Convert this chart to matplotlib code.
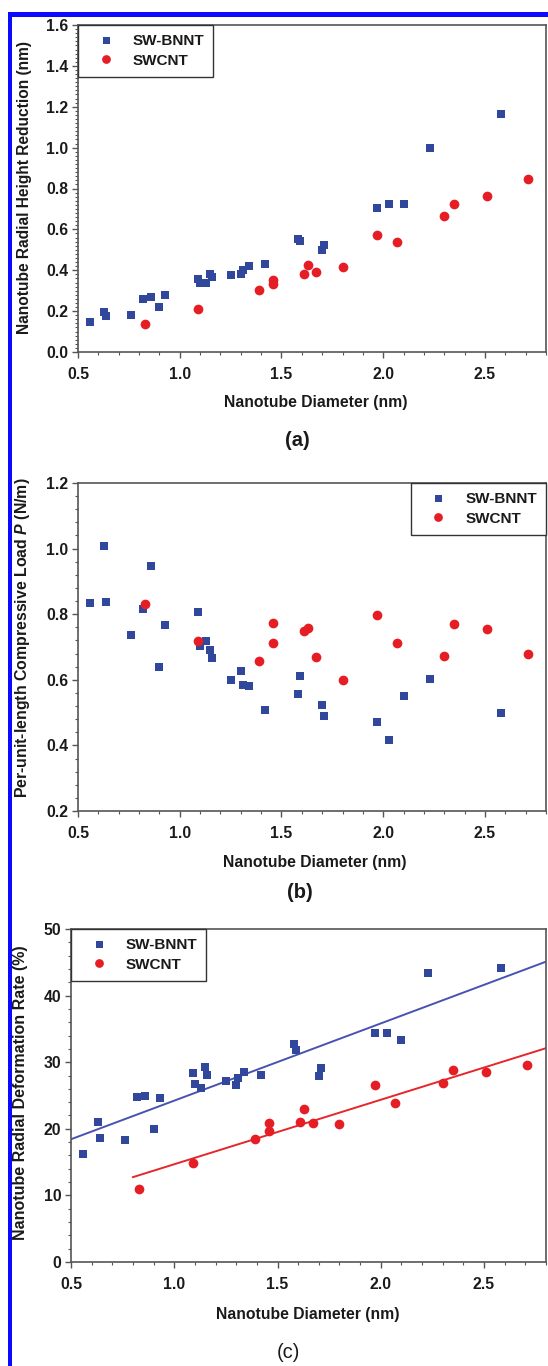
import numpy as np
import matplotlib
matplotlib.use("Agg")
import matplotlib.pyplot as plt
from matplotlib.ticker import MultipleLocator, FormatStrFormatter
from matplotlib.patches import Rectangle

plt.rcParams['font.family'] = ['Liberation Sans', 'DejaVu Sans']
plt.rcParams['font.weight'] = 'bold'
plt.rcParams['mathtext.fontset'] = 'custom'
plt.rcParams['mathtext.it'] = 'Liberation Sans:italic:bold'
plt.rcParams['mathtext.rm'] = 'Liberation Sans:bold'

# ---------------- data ----------------
d_bnnt = [0.56, 0.63, 0.64, 0.76, 0.82, 0.86, 0.90, 0.93, 1.09, 1.10, 1.13, 1.15, 1.16,
          1.25, 1.30, 1.31, 1.34, 1.42, 1.58, 1.59, 1.70, 1.71, 1.97, 2.03, 2.10, 2.23, 2.58]
d_swcnt = [0.83, 1.09, 1.39, 1.46, 1.46, 1.61, 1.63, 1.67, 1.80, 1.97, 2.07, 2.30, 2.35, 2.51, 2.71]

# (a) radial height reduction (nm)
h_bnnt = [0.148, 0.196, 0.174, 0.182, 0.261, 0.267, 0.220, 0.277, 0.357, 0.337, 0.337, 0.383, 0.367,
          0.376, 0.380, 0.399, 0.419, 0.432, 0.552, 0.541, 0.500, 0.525, 0.704, 0.723, 0.723, 0.999, 1.163]
h_swcnt = [0.135, 0.209, 0.305, 0.354, 0.332, 0.383, 0.425, 0.393, 0.415, 0.574, 0.536, 0.665, 0.725, 0.763, 0.847]

# (b) per-unit-length compressive load P (N/m)
p_bnnt = [0.835, 1.008, 0.836, 0.736, 0.817, 0.947, 0.638, 0.766, 0.806, 0.703, 0.719, 0.690, 0.667,
          0.599, 0.627, 0.584, 0.582, 0.509, 0.558, 0.613, 0.522, 0.489, 0.471, 0.417, 0.550, 0.601, 0.499]
p_swcnt = [0.832, 0.719, 0.657, 0.773, 0.712, 0.749, 0.758, 0.670, 0.598, 0.797, 0.713, 0.674, 0.769, 0.754, 0.678]

# (c) radial deformation rate (%)
r_bnnt = [16.25, 20.95, 18.6, 18.25, 24.8, 24.95, 19.9, 24.65, 28.35, 26.8, 26.2, 29.35, 28.1,
          27.25, 26.6, 27.7, 28.5, 28.1, 32.7, 31.9, 28.0, 29.1, 34.45, 34.35, 33.35, 43.35, 44.15]
r_swcnt = [11.0, 14.8, 18.5, 20.85, 19.6, 20.95, 23.0, 20.85, 20.75, 26.6, 23.9, 26.95, 28.9, 28.6, 29.65]

labels = ["SW-BNNT", "SWCNT"]
xlabel = "Nanotube Diameter (nm)"
ylabels = ["Nanotube Radial Height Reduction (nm)",
           "Per-unit-length Compressive Load $\\mathit{P}$ (N/m)",
           "Nanotube Radial Deformation Rate (%)"]
panel_tags = ["(a)", "(b)", "(c)"]

# ---------------- style ----------------
W, H = 548, 1366
BLUE = '#30479b'
RED = '#e51e25'
BLUE_LINE = '#4852b0'
RED_LINE = '#e6262b'
SPINE = '#555555'

fig = plt.figure(figsize=(W / 100, H / 100), dpi=100)
fig.patch.set_facecolor('white')

def rect(l, r, t, b):
    return [l / W, 1 - b / H, (r - l) / W, (b - t) / H]

# blue border
fig.patches.append(Rectangle((7.5 / W, 0), 4.5 / W, 1 - 12 / H, transform=fig.transFigure,
                             facecolor='#0a0aff', edgecolor='none', zorder=10))
fig.patches.append(Rectangle((7.5 / W, 1 - 16.5 / H), (W - 7.5) / W, 4.5 / H, transform=fig.transFigure,
                             facecolor='#0a0aff', edgecolor='none', zorder=10))

def style_axes(ax, ylim, ymaj, ymin, yfmt):
    ax.set_xlim(0.5, 2.8)
    ax.set_ylim(*ylim)
    ax.xaxis.set_major_locator(MultipleLocator(0.5))
    ax.xaxis.set_minor_locator(MultipleLocator(0.1))
    ax.yaxis.set_major_locator(MultipleLocator(ymaj))
    ax.yaxis.set_minor_locator(MultipleLocator(ymin))
    ax.xaxis.set_major_formatter(FormatStrFormatter('%.1f'))
    ax.yaxis.set_major_formatter(FormatStrFormatter(yfmt))
    for s in ax.spines.values():
        s.set_color(SPINE)
        s.set_linewidth(1.2)
    ax.tick_params(axis='both', which='major', direction='out', length=4, width=1.0,
                   color=SPINE, labelsize=11.3, labelcolor='#1a1a1a')
    ax.tick_params(axis='both', which='minor', direction='out', length=2.2, width=0.8, color=SPINE)
    ax.tick_params(axis='x', which='major', pad=7)
    ax.tick_params(axis='y', which='major', pad=3)
    ax.tick_params(top=False, right=False, which='both')
    for lab in ax.get_xticklabels() + ax.get_yticklabels():
        lab.set_fontweight('bold')

def scatter_pair(ax, yb, ys):
    ax.plot(d_bnnt, yb, linestyle='none', marker='s', markersize=5.6, color=BLUE,
            markeredgewidth=0, label=labels[0], zorder=3)
    ax.plot(d_swcnt, ys, linestyle='none', marker='o', markersize=7.0, color=RED,
            markeredgewidth=0, label=labels[1], zorder=3)

def add_legend(ax, loc):
    leg = ax.legend(loc=loc, borderaxespad=0, fancybox=False, frameon=True,
                    prop={'size': 11, 'weight': 'bold'}, borderpad=0.6, handlelength=2.4,
                    handletextpad=0.55, labelspacing=0.35, numpoints=1, markerscale=0.9)
    fr = leg.get_frame()
    fr.set_edgecolor('#333333')
    fr.set_linewidth(1.0)
    fr.set_alpha(1)
    for t in leg.get_texts():
        t.set_color('#1a1a1a')
    return leg

# ---- panel (a) ----
axa = fig.add_axes(rect(78, 546, 25, 352))
scatter_pair(axa, h_bnnt, h_swcnt)
style_axes(axa, (0.0, 1.6), 0.2, 0.02, '%.1f')
add_legend(axa, 'upper left')

# ---- panel (b) ----
axb = fig.add_axes(rect(78, 546, 483, 811))
scatter_pair(axb, p_bnnt, p_swcnt)
style_axes(axb, (0.2, 1.2), 0.2, 0.04, '%.1f')
add_legend(axb, 'upper right')

# ---- panel (c) ----
axc = fig.add_axes(rect(71, 546, 929, 1262))
kb = np.polyfit(d_bnnt, r_bnnt, 1)
ks = np.polyfit(d_swcnt, r_swcnt, 1)
xb = np.array([0.5, 2.8])
xs = np.array([0.8, 2.8])
axc.plot(xb, np.polyval(kb, xb), color=BLUE_LINE, lw=1.4, zorder=2)
axc.plot(xs, np.polyval(ks, xs), color=RED_LINE, lw=1.4, zorder=2)
scatter_pair(axc, r_bnnt, r_swcnt)
style_axes(axc, (0, 50), 10, 2, '%d')
add_legend(axc, 'upper left')

# ---- text labels ----
def ftext(x, y, s, **kw):
    fig.text(x / W, 1 - y / H, s, ha='center', va='center', **kw)

ftext(316, 403, xlabel, fontsize=11.3, fontweight='bold', color='#1a1a1a')
ftext(315, 862, xlabel, fontsize=11.3, fontweight='bold', color='#1a1a1a')
ftext(308, 1315, xlabel, fontsize=11.3, fontweight='bold', color='#1a1a1a')

ftext(24.5, 188, ylabels[0], fontsize=11.2, fontweight='bold', rotation=90, color='#1a1a1a')
ftext(23, 638, ylabels[1], fontsize=11.4, fontweight='bold', rotation=90, color='#1a1a1a')
ftext(21, 1093, ylabels[2], fontsize=11.5, fontweight='bold', rotation=90, color='#1a1a1a')

ftext(297, 440, panel_tags[0], fontsize=14.5, fontweight='bold', color='#1a1a1a')
ftext(300, 892, panel_tags[1], fontsize=14.5, fontweight='bold', color='#1a1a1a')
ftext(288, 1353, panel_tags[2], fontsize=14.5, fontweight='normal', color='#1a1a1a')

fig.savefig('out.png', dpi=100, facecolor='white')
